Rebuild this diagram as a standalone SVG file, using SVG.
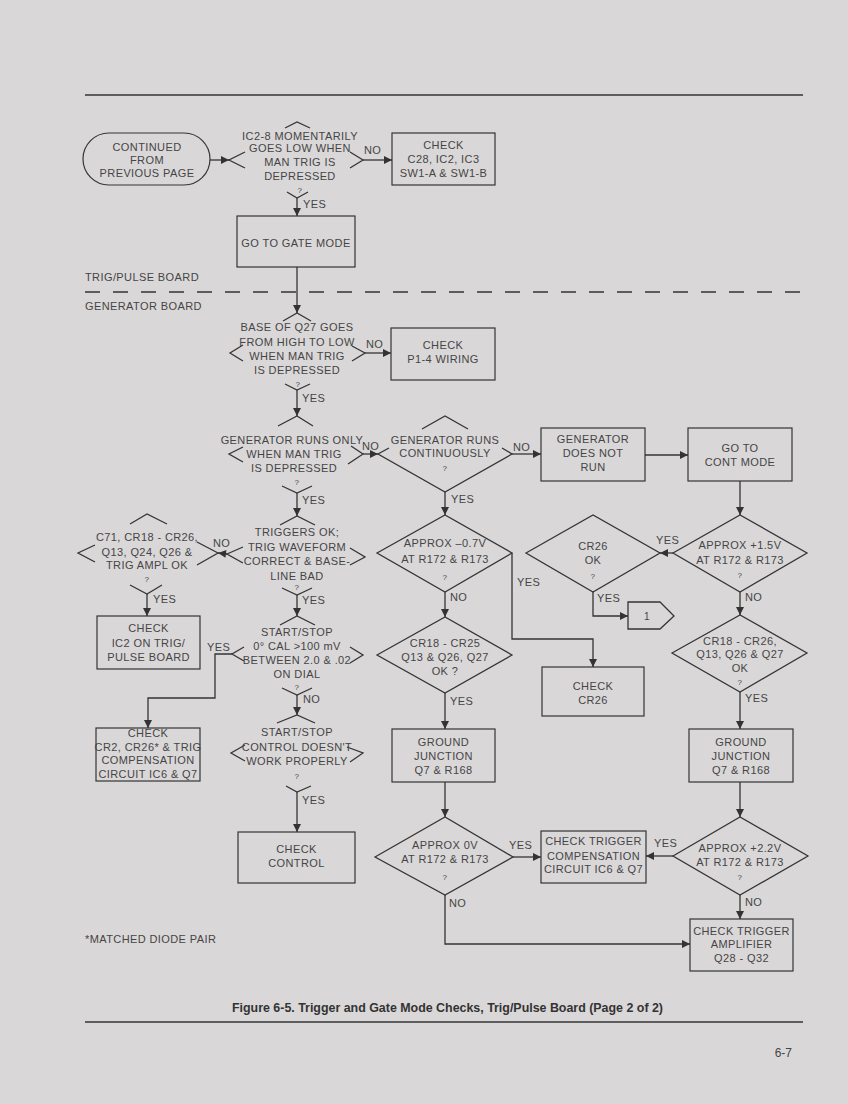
<svg xmlns="http://www.w3.org/2000/svg" width="848" height="1104" viewBox="0 0 848 1104">
<defs>
<marker id="ah" viewBox="0 0 10 10" refX="10" refY="5" markerWidth="10" markerHeight="8" markerUnits="userSpaceOnUse" orient="auto">
<path d="M0,0 L10,5 L0,10 Z" fill="#333"/>
</marker>
<style>
.bg{fill:#dad7d8}
.s{fill:none;stroke:#353535;stroke-width:1.3}
.c{fill:none;stroke:#353535;stroke-width:1.3;marker-end:url(#ah)}
.r{fill:none;stroke:#353535;stroke-width:1.2}
text{font-family:"Liberation Sans",Arial,sans-serif;font-size:11px;letter-spacing:0.4px;fill:#454545}
.t{text-anchor:middle}
.q{text-anchor:middle;font-size:8px}
.l{text-anchor:start}
.cap{font-weight:bold;font-size:12.5px;fill:#333;letter-spacing:0}
</style>
</defs>
<rect class="bg" x="0" y="0" width="848" height="1104"/>
<line class="s" x1="85" y1="95" x2="803" y2="95"/>
<line class="s" x1="85" y1="1022" x2="803" y2="1022"/>
<line class="s" x1="85" y1="292" x2="803" y2="292" stroke-dasharray="15 13"/>
<text class="l" x="85" y="281">TRIG/PULSE BOARD</text>
<text class="l" x="85" y="310">GENERATOR BOARD</text>
<text class="l" x="85" y="943">*MATCHED DIODE PAIR</text>
<text class="cap" x="232" y="1012" textLength="431" lengthAdjust="spacingAndGlyphs">Figure 6-5.  Trigger and Gate Mode Checks, Trig/Pulse Board (Page 2 of 2)</text>
<text x="792" y="1057" style="text-anchor:end;font-size:12px;letter-spacing:0">6-7</text>

<g id="start">
<rect class="r" x="83" y="133" width="127" height="52" rx="26"/>
<text class="t" x="147" y="151">CONTINUED</text>
<text class="t" x="147" y="164">FROM</text>
<text class="t" x="147" y="177">PREVIOUS PAGE</text>
</g>
<g id="d-ic28">
<path class="s" d="M285,128 L297,122 L310,128 M245,152 L229,160 L245,168 M350,152 L363,160 L350,168 M287,192 L297,198 L308,192"/>
<text class="t" x="300" y="140">IC2-8  MOMENTARILY</text>
<text class="t" x="300" y="152">GOES LOW WHEN</text>
<text class="t" x="300" y="166">MAN TRIG IS</text>
<text class="t" x="300" y="180">DEPRESSED</text>
<text class="q" x="300" y="193">?</text>
</g>
<g id="b-c28">
<rect class="r" x="392" y="133" width="103" height="52"/>
<text class="t" x="443.5" y="149">CHECK</text>
<text class="t" x="443.5" y="163">C28, IC2, IC3</text>
<text class="t" x="443.5" y="177">SW1-A &amp; SW1-B</text>
</g>
<g id="b-gate">
<rect class="r" x="237" y="216" width="118" height="51"/>
<text class="t" x="296" y="247">GO TO GATE MODE</text>
</g>
<g id="d-q27">
<path class="s" d="M283,321 L297,313 L311,321 M243,345 L230,353 L243,361 M352,346 L365,353 L352,361 M285,384 L297,390 L310,384"/>
<text class="t" x="297" y="331">BASE OF Q27 GOES</text>
<text class="t" x="297" y="346">FROM HIGH TO LOW</text>
<text class="t" x="297" y="360">WHEN MAN TRIG</text>
<text class="t" x="297" y="374">IS DEPRESSED</text>
<text class="q" x="298" y="387">?</text>
</g>
<g id="b-p14">
<rect class="r" x="391" y="328" width="104" height="52"/>
<text class="t" x="443" y="349">CHECK</text>
<text class="t" x="443" y="363">P1-4 WIRING</text>
</g>
<g id="d-gro">
<path class="s" d="M278,426 L297,416 L313,426 M243,447 L229,454 L243,462 M351,446 L363,454 L348,464 M282,486 L297,493 L312,486"/>
<text class="t" x="292" y="444">GENERATOR RUNS ONLY</text>
<text class="t" x="294" y="458">WHEN MAN TRIG</text>
<text class="t" x="294" y="472">IS DEPRESSED</text>
<text class="q" x="297" y="485">?</text>
</g>
<g id="d-grc">
<path class="s" d="M389,448 L378,454 L445,492 L512,454 L502,448 M422,429 L445,416 L468,429"/>
<text class="t" x="445" y="444">GENERATOR  RUNS</text>
<text class="t" x="445" y="457">CONTINUOUSLY</text>
<text class="q" x="445" y="471">?</text>
</g>
<g id="b-gdnr">
<rect class="r" x="541" y="428" width="104" height="53"/>
<text class="t" x="593" y="443">GENERATOR</text>
<text class="t" x="593" y="457">DOES NOT</text>
<text class="t" x="593" y="471">RUN</text>
</g>
<g id="b-cont">
<rect class="r" x="688" y="428" width="104" height="53"/>
<text class="t" x="740" y="452">GO TO</text>
<text class="t" x="740" y="466">CONT MODE</text>
</g>
<g id="d-trig">
<path class="s" d="M280,525 L297,516 L315,525 M243,547 L227,554 L243,563 M350,548 L365,557 L350,565 M282,588 L297,595 L312,588"/>
<text class="t" x="297" y="536">TRIGGERS OK;</text>
<text class="t" x="297" y="551">TRIG WAVEFORM</text>
<text class="t" x="297" y="565">CORRECT &amp; BASE-</text>
<text class="t" x="297" y="580">LINE BAD</text>
<text class="q" x="297" y="590">?</text>
</g>
<g id="d-c71">
<path class="s" d="M130,524 L147,514 L167,524 M95,545 L78,553 L95,562 M197,542 L218,553 L197,565 M130,585 L147,594 L162,585"/>
<text class="t" x="147" y="541">C71, CR18 - CR26,</text>
<text class="t" x="147" y="556">Q13, Q24, Q26 &amp;</text>
<text class="t" x="147" y="569">TRIG AMPL OK</text>
<text class="q" x="147" y="582">?</text>
</g>
<g id="b-ic2">
<rect class="r" x="97" y="616" width="103" height="53"/>
<text class="t" x="148.5" y="632">CHECK</text>
<text class="t" x="148.5" y="647">IC2 ON TRIG/</text>
<text class="t" x="148.5" y="661">PULSE BOARD</text>
</g>
<g id="d-ss">
<path class="s" d="M280,625 L297,616 L315,625 M244,647 L232,654 L244,661 M350,647 L363,655 L350,663 M282,688 L297,695 L312,688"/>
<text class="t" x="297" y="636">START/STOP</text>
<text class="t" x="297" y="650">0° CAL &gt;100 mV</text>
<text class="t" x="297" y="664">BETWEEN 2.0 &amp; .02</text>
<text class="t" x="297" y="678">ON DIAL</text>
<text class="q" x="297" y="690">?</text>
</g>
<g id="b-cr2">
<rect class="r" x="96" y="728" width="104" height="53"/>
<text class="t" x="148" y="737">CHECK</text>
<text class="t" x="148" y="751">CR2, CR26* &amp; TRIG</text>
<text class="t" x="148" y="764">COMPENSATION</text>
<text class="t" x="148" y="778">CIRCUIT IC6 &amp; Q7</text>
</g>
<g id="d-ctl">
<path class="s" d="M277,723 L297,715 L315,723 M245,745 L231,753 L245,761 M347,747 L363,753 L350,762 M286,786 L297,792 L311,786"/>
<text class="t" x="297" y="736">START/STOP</text>
<text class="t" x="297" y="751">CONTROL DOESN'T</text>
<text class="t" x="297" y="765">WORK PROPERLY</text>
<text class="q" x="297" y="779">?</text>
</g>
<g id="b-ctl">
<rect class="r" x="238" y="832" width="117" height="51"/>
<text class="t" x="296.5" y="853">CHECK</text>
<text class="t" x="296.5" y="867">CONTROL</text>
</g>
<g id="d-m07">
<path class="s" d="M377,553 L445,515 L512,553 L445,592 Z"/>
<text class="t" x="445" y="547">APPROX –0.7V</text>
<text class="t" x="445" y="563">AT R172 &amp; R173</text>
<text class="q" x="445" y="580">?</text>
</g>
<g id="d-cr26">
<path class="s" d="M526,553 L593,515 L660,553 L593,592 Z"/>
<text class="t" x="593" y="550">CR26</text>
<text class="t" x="593" y="564">OK</text>
<text class="q" x="593" y="579">?</text>
</g>
<g id="d-p15">
<path class="s" d="M673,553 L740,515 L807,553 L740,592 Z"/>
<text class="t" x="740" y="549">APPROX +1.5V</text>
<text class="t" x="740" y="564">AT R172 &amp; R173</text>
<text class="q" x="740" y="578">?</text>
</g>
<g id="c-1">
<path class="s" d="M628,602 L660,602 L674,616 L660,629 L628,629 Z"/>
<text class="t" x="647" y="620" style="font-size:10px">1</text>
</g>
<g id="d-cr1825">
<path class="s" d="M377,655 L445,617 L512,655 L445,693 Z"/>
<text class="t" x="445" y="647">CR18 - CR25</text>
<text class="t" x="445" y="661">Q13 &amp; Q26, Q27</text>
<text class="t" x="445" y="675">OK ?</text>
</g>
<g id="b-cr26">
<rect class="r" x="542" y="667" width="102" height="49"/>
<text class="t" x="593" y="690">CHECK</text>
<text class="t" x="593" y="704">CR26</text>
</g>
<g id="d-cr1826">
<path class="s" d="M672,653 L740,615 L807,653 L740,692 Z"/>
<text class="t" x="740" y="645">CR18 - CR26,</text>
<text class="t" x="740" y="658">Q13, Q26 &amp; Q27</text>
<text class="t" x="740" y="672">OK</text>
<text class="q" x="740" y="685">?</text>
</g>
<g id="b-gnd1">
<rect class="r" x="392" y="729" width="103" height="53"/>
<text class="t" x="443.5" y="746">GROUND</text>
<text class="t" x="443.5" y="760">JUNCTION</text>
<text class="t" x="443.5" y="774">Q7 &amp; R168</text>
</g>
<g id="b-gnd2">
<rect class="r" x="689" y="729" width="104" height="53"/>
<text class="t" x="741" y="746">GROUND</text>
<text class="t" x="741" y="760">JUNCTION</text>
<text class="t" x="741" y="774">Q7 &amp; R168</text>
</g>
<g id="d-0v">
<path class="s" d="M375,857 L445,817 L513,857 L445,895 Z"/>
<text class="t" x="445" y="849">APPROX 0V</text>
<text class="t" x="445" y="863">AT R172 &amp; R173</text>
<text class="q" x="445" y="880">?</text>
</g>
<g id="b-ctc">
<rect class="r" x="541" y="831" width="105" height="52"/>
<text class="t" x="593.5" y="845">CHECK TRIGGER</text>
<text class="t" x="593.5" y="860">COMPENSATION</text>
<text class="t" x="593.5" y="873">CIRCUIT IC6 &amp; Q7</text>
</g>
<g id="d-p22">
<path class="s" d="M673,856 L740,817 L808,856 L740,895 Z"/>
<text class="t" x="740" y="852">APPROX +2.2V</text>
<text class="t" x="740" y="866">AT R172 &amp; R173</text>
<text class="q" x="740" y="880">?</text>
</g>
<g id="b-cta">
<rect class="r" x="690" y="919" width="103" height="52"/>
<text class="t" x="741.5" y="935">CHECK TRIGGER</text>
<text class="t" x="741.5" y="948">AMPLIFIER</text>
<text class="t" x="741.5" y="962">Q28 - Q32</text>
</g>

<g id="connectors">
<path class="c" d="M210,160 L229,160"/>
<path class="c" d="M363,160 L392,160"/>
<path class="c" d="M297,198 L297,216"/>
<path class="c" d="M297,267 L297,313"/>
<path class="c" d="M365,353 L391,353"/>
<path class="c" d="M297,390 L297,416"/>
<path class="c" d="M363,454 L378,454"/>
<path class="c" d="M512,454 L541,454"/>
<path class="c" d="M645,455 L688,455"/>
<path class="c" d="M740,481 L740,515"/>
<path class="c" d="M445,492 L445,515"/>
<path class="c" d="M297,493 L297,516"/>
<path class="c" d="M227,554 L218,553"/>
<path class="c" d="M147,594 L147,616"/>
<path class="c" d="M297,595 L297,616"/>
<path class="c" d="M232,654 L215,654 L215,698 L148,698 L148,728"/>
<path class="c" d="M297,695 L297,715"/>
<path class="c" d="M297,792 L297,832"/>
<path class="c" d="M512,553 L512,639 L593,639 L593,667"/>
<path class="c" d="M445,592 L445,617"/>
<path class="c" d="M445,693 L445,729"/>
<path class="c" d="M445,782 L445,817"/>
<path class="c" d="M513,857 L541,857"/>
<path class="c" d="M445,895 L445,944 L690,944"/>
<path class="c" d="M673,553 L660,553"/>
<path class="c" d="M593,592 L593,616 L628,616"/>
<path class="c" d="M740,592 L740,615"/>
<path class="c" d="M740,692 L740,729"/>
<path class="c" d="M740,782 L740,817"/>
<path class="c" d="M673,856 L646,856"/>
<path class="c" d="M740,895 L740,919"/>
<text class="l" x="364" y="154">NO</text>
<text class="l" x="303" y="208">YES</text>
<text class="l" x="366" y="348">NO</text>
<text class="l" x="302" y="402">YES</text>
<text class="l" x="362" y="450">NO</text>
<text class="l" x="513" y="451">NO</text>
<text class="l" x="451" y="503">YES</text>
<text class="l" x="302" y="504">YES</text>
<text class="l" x="213" y="547">NO</text>
<text class="l" x="153" y="603">YES</text>
<text class="l" x="302" y="604">YES</text>
<text class="l" x="207" y="651">YES</text>
<text class="l" x="303" y="703">NO</text>
<text class="l" x="302" y="804">YES</text>
<text class="l" x="517" y="586">YES</text>
<text class="l" x="450" y="601">NO</text>
<text class="l" x="450" y="705">YES</text>
<text class="l" x="509" y="849">YES</text>
<text class="l" x="449" y="907">NO</text>
<text class="l" x="656" y="544">YES</text>
<text class="l" x="597" y="602">YES</text>
<text class="l" x="745" y="601">NO</text>
<text class="l" x="745" y="702">YES</text>
<text class="l" x="654" y="847">YES</text>
<text class="l" x="745" y="906">NO</text>
</g>
</svg>
